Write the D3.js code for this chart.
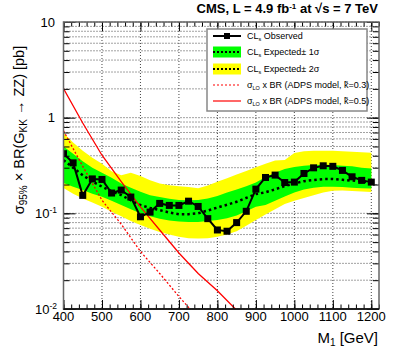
<!DOCTYPE html>
<html>
<head>
<meta charset="utf-8">
<script src="https://cdn.jsdelivr.net/npm/d3@7"></script>
<style>
  body { margin: 0; background: #fff; }
  svg { display: block; }
  text { font-family: "Liberation Sans", Arial, Helvetica, sans-serif; fill: #000; }
</style>
</head>
<body>
<div id="chart"></div>
<script>
// mass points (GeV)
var masses = [400, 425, 450, 475, 500, 525, 550, 575, 600, 625, 650, 675, 700, 725, 750, 775, 800,
              825, 850, 875, 900, 925, 950, 975, 1000, 1025, 1050, 1075, 1100, 1125, 1150, 1175, 1200];
var observed = [0.42, 0.337, 0.154, 0.229, 0.226, 0.163, 0.175, 0.148, 0.092, 0.103, 0.127, 0.121, 0.121,
                0.134, 0.118, 0.088, 0.067, 0.065, 0.080, 0.105, 0.179, 0.237, 0.251, 0.210, 0.212,
                0.261, 0.299, 0.314, 0.310, 0.281, 0.241, 0.221, 0.212];
var expected = [0.36, 0.30, 0.25, 0.215, 0.19, 0.17, 0.155, 0.137, 0.122, 0.114, 0.108, 0.102, 0.098,
                0.098, 0.100, 0.107, 0.115, 0.123, 0.132, 0.145, 0.159, 0.166, 0.178, 0.193, 0.205,
                0.217, 0.223, 0.228, 0.228, 0.224, 0.220, 0.216, 0.212];
var oneSigUp = [0.50, 0.42, 0.35, 0.30, 0.265, 0.235, 0.205, 0.185, 0.168, 0.155, 0.148, 0.142, 0.138,
                0.137, 0.138, 0.143, 0.152, 0.165, 0.178, 0.192, 0.21, 0.24, 0.265, 0.29, 0.305,
                0.315, 0.32, 0.322, 0.32, 0.315, 0.31, 0.30, 0.295];
var oneSigDn = [0.207, 0.19, 0.175, 0.16, 0.149, 0.135, 0.122, 0.11, 0.10, 0.093, 0.088, 0.084, 0.082,
                0.081, 0.081, 0.083, 0.085, 0.089, 0.095, 0.105, 0.117, 0.122, 0.135, 0.15, 0.165,
                0.178, 0.185, 0.19, 0.19, 0.188, 0.185, 0.183, 0.182];
var twoSigUp = [0.69, 0.55, 0.45, 0.38, 0.33, 0.275, 0.25, 0.265, 0.246, 0.222, 0.205, 0.197, 0.192,
                0.188, 0.183, 0.195, 0.214, 0.233, 0.254, 0.277, 0.304, 0.33, 0.356, 0.36, 0.426,
                0.445, 0.45, 0.45, 0.45, 0.445, 0.44, 0.435, 0.43];
var twoSigDn = [0.184, 0.16, 0.143, 0.13, 0.117, 0.104, 0.093, 0.083, 0.0754, 0.069, 0.064, 0.06, 0.057,
                0.0548, 0.0545, 0.055, 0.057, 0.06, 0.065, 0.074, 0.085, 0.097, 0.11, 0.125, 0.135,
                0.145, 0.155, 0.165, 0.172, 0.173, 0.171, 0.169, 0.167];

// LO theory cross sections x BR
var theoryMass = [400, 450, 500, 550, 600, 650, 700, 750, 800, 850];
var theory03 = [0.73, 0.31, 0.137, 0.077, 0.040, 0.0235, 0.0135, 0.008, 0.0048, 0.003];
var theory05 = [2.02, 0.88, 0.405, 0.215, 0.117, 0.067, 0.0385, 0.0235, 0.0155, 0.0097];

var xTicks = [400, 500, 600, 700, 800, 900, 1000, 1100, 1200];
var yTicks = [0.01, 0.1, 1, 10];
var yTickLabels = [["10", "-2"], ["10", "-1"], ["1", ""], ["10", ""]];

var legendLabels = ["Observed", "Expected\u00b1 1\u03c3", "Expected\u00b1 2\u03c3",
                    "(ADPS model, k\u0303=0.3)", "(ADPS model, k\u0303=0.5)"];

var fullwidth = 399, fullheight = 364;
var plot = {left: 63.5, right: 379, top: 22, bottom: 309};

var svg = d3.select("#chart").append("svg")
    .attr("width", fullwidth)
    .attr("height", fullheight);

var xScale = d3.scaleLinear().domain([400, 1220]).range([plot.left, plot.right]);
var yScale = d3.scaleLog().domain([0.01, 10]).range([plot.bottom, plot.top]);

var xMinor = d3.range(400, 1221, 20);
var yMinor = [];
[0.01, 0.1, 1].forEach(function(d) {
    for (var k = 1; k < 10; k++) yMinor.push(d * k);
});
yMinor.push(10);

svg.append("defs").append("clipPath").attr("id", "clip")
    .append("rect")
    .attr("x", plot.left).attr("y", plot.top)
    .attr("width", plot.right - plot.left).attr("height", plot.bottom - plot.top);

// grid
var grid = svg.append("g").attr("class", "grid");
grid.selectAll("line.gx")
    .data(xTicks)
    .enter().append("line")
    .attr("x1", function(d) { return xScale(d); })
    .attr("x2", function(d) { return xScale(d); })
    .attr("y1", plot.top).attr("y2", plot.bottom)
    .attr("stroke", "#444").attr("stroke-width", 1).attr("stroke-dasharray", "1,2");
grid.selectAll("line.gy")
    .data(yMinor)
    .enter().append("line")
    .attr("x1", plot.left).attr("x2", plot.right)
    .attr("y1", function(d) { return yScale(d); })
    .attr("y2", function(d) { return yScale(d); })
    .attr("stroke", "#444").attr("stroke-width", 1).attr("stroke-dasharray", "1,2");

var data = masses.map(function(m, i) {
    return {m: m, obs: observed[i], exp: expected[i],
            u1: oneSigUp[i], d1: oneSigDn[i], u2: twoSigUp[i], d2: twoSigDn[i]};
});

var g = svg.append("g").attr("clip-path", "url(#clip)");

var area2 = d3.area()
    .x(function(d) { return xScale(d.m); })
    .y0(function(d) { return yScale(d.d2); })
    .y1(function(d) { return yScale(d.u2); });
var area1 = d3.area()
    .x(function(d) { return xScale(d.m); })
    .y0(function(d) { return yScale(d.d1); })
    .y1(function(d) { return yScale(d.u1); });

g.append("path").datum(data).attr("d", area2).attr("fill", "#ffff00");
g.append("path").datum(data).attr("d", area1).attr("fill", "#00ff00");

var expLine = d3.line()
    .x(function(d) { return xScale(d.m); })
    .y(function(d) { return yScale(d.exp); });
g.append("path").datum(data).attr("d", expLine)
    .attr("fill", "none").attr("stroke", "#000").attr("stroke-width", 2.5)
    .attr("stroke-dasharray", "2.5,3");

var theoryLine = d3.line()
    .x(function(d) { return xScale(d[0]); })
    .y(function(d) { return yScale(d[1]); });
g.append("path").datum(d3.zip(theoryMass, theory03)).attr("d", theoryLine)
    .attr("fill", "none").attr("stroke", "#ff0000").attr("stroke-width", 1.3)
    .attr("stroke-dasharray", "2,2");
g.append("path").datum(d3.zip(theoryMass, theory05)).attr("d", theoryLine)
    .attr("fill", "none").attr("stroke", "#ff0000").attr("stroke-width", 1.3);

var obsLine = d3.line()
    .x(function(d) { return xScale(d.m); })
    .y(function(d) { return yScale(d.obs); });
g.append("path").datum(data).attr("d", obsLine)
    .attr("fill", "none").attr("stroke", "#000").attr("stroke-width", 2);
g.selectAll("rect.obs")
    .data(data)
    .enter().append("rect")
    .attr("x", function(d) { return xScale(d.m) - 3.5; })
    .attr("y", function(d) { return yScale(d.obs) - 3.5; })
    .attr("width", 7).attr("height", 7)
    .attr("fill", "#000");

// axes with inward ticks on all four sides
function styleAxis(sel) {
    sel.select(".domain").remove();
    sel.selectAll(".tick line").attr("stroke", "#000");
    sel.selectAll(".tick text").remove();
}
svg.append("g").attr("transform", "translate(0," + plot.bottom + ")")
    .call(d3.axisBottom(xScale).tickValues(xMinor).tickSize(-4.5)).call(styleAxis);
svg.append("g").attr("transform", "translate(0," + plot.bottom + ")")
    .call(d3.axisBottom(xScale).tickValues(xTicks).tickSize(-9)).call(styleAxis);
svg.append("g").attr("transform", "translate(0," + plot.top + ")")
    .call(d3.axisTop(xScale).tickValues(xMinor).tickSize(-4.5)).call(styleAxis);
svg.append("g").attr("transform", "translate(0," + plot.top + ")")
    .call(d3.axisTop(xScale).tickValues(xTicks).tickSize(-9)).call(styleAxis);
svg.append("g").attr("transform", "translate(" + plot.left + ",0)")
    .call(d3.axisLeft(yScale).tickValues(yMinor).tickSize(-6)).call(styleAxis);
svg.append("g").attr("transform", "translate(" + plot.left + ",0)")
    .call(d3.axisLeft(yScale).tickValues(yTicks).tickSize(-12)).call(styleAxis);
svg.append("g").attr("transform", "translate(" + plot.right + ",0)")
    .call(d3.axisRight(yScale).tickValues(yMinor).tickSize(-6)).call(styleAxis);
svg.append("g").attr("transform", "translate(" + plot.right + ",0)")
    .call(d3.axisRight(yScale).tickValues(yTicks).tickSize(-12)).call(styleAxis);

// frame
svg.append("rect")
    .attr("x", plot.left).attr("y", plot.top)
    .attr("width", plot.right - plot.left).attr("height", plot.bottom - plot.top)
    .attr("fill", "none").attr("stroke", "#666").attr("stroke-width", 1.5);
svg.append("line")
    .attr("x1", plot.left).attr("x2", plot.right)
    .attr("y1", plot.bottom).attr("y2", plot.bottom)
    .attr("stroke", "#000").attr("stroke-width", 1.5);

// tick labels
svg.selectAll("text.xl")
    .data(xTicks)
    .enter().append("text")
    .attr("x", function(d) { return xScale(d); })
    .attr("y", plot.bottom + 12)
    .attr("text-anchor", "middle")
    .attr("font-size", 13)
    .text(function(d) { return d; });

var yl = svg.selectAll("text.yl")
    .data(yTicks)
    .enter().append("text")
    .attr("x", function(d, i) { return yTickLabels[i][1] ? 57 : 55; })
    .attr("y", function(d) { return yScale(d) + 4.5; })
    .attr("text-anchor", "end")
    .attr("font-size", 13);
yl.append("tspan").text(function(d, i) { return yTickLabels[i][0]; });
yl.append("tspan")
    .attr("dy", -5).attr("font-size", 8.5)
    .text(function(d, i) { return yTickLabels[i][1]; });

// axis titles
var xt = svg.append("text")
    .attr("x", 378).attr("y", 343)
    .attr("text-anchor", "end").attr("font-size", 15);
xt.append("tspan").text("M");
xt.append("tspan").attr("dy", 3).attr("font-size", 10).text("1");
xt.append("tspan").attr("dy", -3).text(" [GeV]");

var yt = svg.append("text")
    .attr("transform", "translate(24,130) rotate(-90)")
    .attr("text-anchor", "middle").attr("font-size", 14.5);
yt.append("tspan").text("\u03c3");
yt.append("tspan").attr("dy", 3).attr("font-size", 10).text("95%");
yt.append("tspan").attr("dy", -3).text(" \u00d7 BR(G");
yt.append("tspan").attr("dy", 3).attr("font-size", 10).text("KK");
yt.append("tspan").attr("dy", -3).text(" \u2192 ZZ) [pb]");

// title
var tt = svg.append("text")
    .attr("x", 378).attr("y", 13)
    .attr("text-anchor", "end").attr("font-size", 13).attr("font-weight", "bold");
tt.append("tspan").text("CMS, L = 4.9 fb");
tt.append("tspan").attr("dy", -4).attr("font-size", 8).text("-1");
tt.append("tspan").attr("dy", 4).text(" at  \u221as = 7 TeV");

// legend
var leg = svg.append("g");
leg.append("rect")
    .attr("x", 207).attr("y", 29).attr("width", 160).attr("height", 82)
    .attr("fill", "#fff").attr("stroke", "#888").attr("stroke-width", 1.5);
var rowY = [36, 52, 69, 85, 101];
var symX0 = 213, symX1 = 241, textX = 247;

leg.append("line").attr("x1", symX0).attr("x2", symX1).attr("y1", rowY[0]).attr("y2", rowY[0])
    .attr("stroke", "#000").attr("stroke-width", 2);
leg.append("rect").attr("x", (symX0 + symX1) / 2 - 3).attr("y", rowY[0] - 3)
    .attr("width", 6).attr("height", 6).attr("fill", "#000");
[["#00ff00", rowY[1]], ["#ffff00", rowY[2]]].forEach(function(b) {
    leg.append("rect").attr("x", symX0).attr("y", b[1] - 5.5)
        .attr("width", symX1 - symX0).attr("height", 11).attr("fill", b[0]);
    leg.append("line").attr("x1", symX0).attr("x2", symX1).attr("y1", b[1]).attr("y2", b[1])
        .attr("stroke", "#000").attr("stroke-width", 2).attr("stroke-dasharray", "2,2");
});
leg.append("line").attr("x1", symX0).attr("x2", symX1).attr("y1", rowY[3]).attr("y2", rowY[3])
    .attr("stroke", "#ff0000").attr("stroke-width", 1.2).attr("stroke-dasharray", "2,2");
leg.append("line").attr("x1", symX0).attr("x2", symX1).attr("y1", rowY[4]).attr("y2", rowY[4])
    .attr("stroke", "#ff0000").attr("stroke-width", 1.2);

legendLabels.forEach(function(lab, i) {
    var t = leg.append("text").attr("x", textX).attr("y", rowY[i] + 3.3).attr("font-size", 9);
    if (i < 3) {
        t.append("tspan").text("CL");
        t.append("tspan").attr("dy", 2).attr("font-size", 5.5).text("s");
        t.append("tspan").attr("dy", -2).text(" " + lab);
    } else {
        t.append("tspan").text("\u03c3");
        t.append("tspan").attr("dy", 2).attr("font-size", 5.5).text("LO");
        t.append("tspan").attr("dy", -2).text(" x BR " + lab);
    }
});
</script>
</body>
</html>
